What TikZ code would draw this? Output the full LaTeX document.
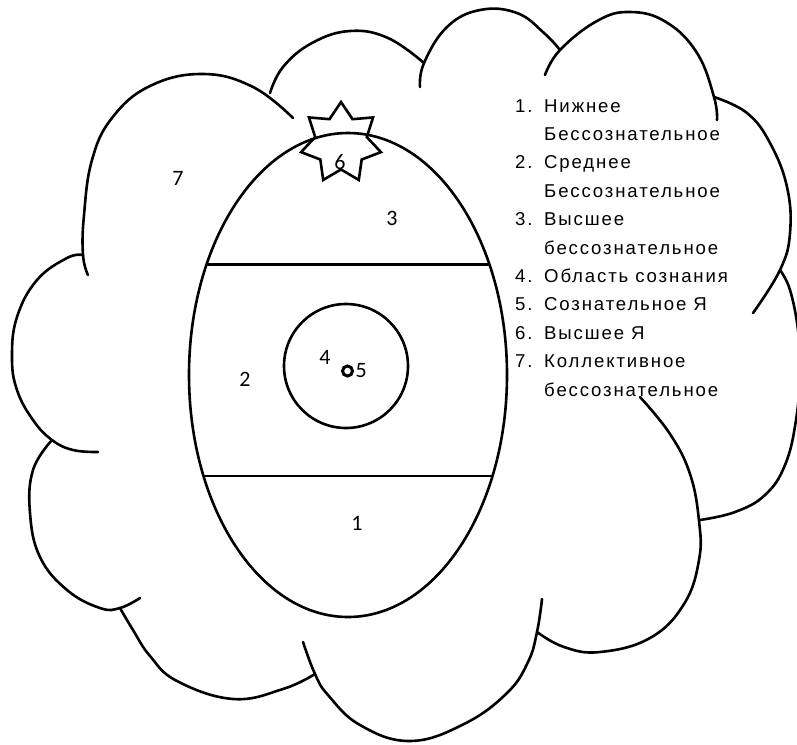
\documentclass[tikz,border=0pt]{standalone}
\usepackage{fontspec}
\setmainfont{Liberation Sans}
\newfontfamily\digitfont{Carlito}
\newfontfamily\listfont[LetterSpace=10]{Liberation Sans}
\usetikzlibrary{shapes.geometric,positioning}
\tikzset{
  outline/.style={draw=black,line width=2.6pt},
  lobe/.style={outline,line cap=round},
  part/.style={font=\digitfont\fontsize{22}{22}\selectfont,inner sep=0pt},
  legend/.style={font=\listfont\fontsize{18.6}{28.4}\selectfont,align=left,inner sep=0pt},
}
\newcommand{\itm}[1]{\makebox[29pt][l]{#1}}
\newcommand{\cont}{\hspace*{29pt}}

\begin{document}
\begin{tikzpicture}[x=1pt,y=-1pt]
  \useasboundingbox (0,0) rectangle (797,744);
  % cloud, lobe by lobe
  \draw[lobe] plot[smooth,tension=0.7] coordinates {(88,275) (83,255) (84,215) (92,160) (112,118) (150,86) (203,74) (253,87) (293,118)};
  \draw[lobe] plot[smooth,tension=0.7] coordinates {(270,93) (283,67) (312,43) (350,31) (388,38) (424,63)};
  \draw[lobe] plot[smooth,tension=0.7] coordinates {(420,87) (424,63) (447,27) (480,10) (517,13) (544,33) (560,50)};
  \draw[lobe] plot[smooth,tension=0.7] coordinates {(545,75) (560,50) (597,21) (630,12) (666,22) (697,53) (714,97) (717,120)};
  \draw[lobe] plot[smooth,tension=0.7] coordinates {(714,97) (747,113) (770,143) (787,187) (790,233) (780,270) (753,313)};
  \draw[lobe] plot[smooth,tension=0.7] coordinates {(780,270) (790,290) (798,330) (800,370) (796,420) (785,465) (765,495) (735,512) (700,520)};
  \draw[lobe] plot[smooth,tension=0.7] coordinates {(640,397) (670,434) (690,474) (699,521) (699,560) (684,604) (650,638) (600,652) (564,647) (537,632)};
  \draw[lobe] plot[smooth,tension=0.7] coordinates {(542,599) (537,632) (528,662) (507,693) (464,724) (410,741) (360,725) (328,695) (315,674) (303,642)};
  \draw[lobe] plot[smooth,tension=0.7] coordinates {(120,608) (133,630) (150,656) (177,681) (233,699) (283,689) (315,674)};
  \draw[lobe] plot[smooth,tension=0.7] coordinates {(52,440) (33,470) (30,513) (40,557) (67,590) (100,608) (120,608) (140,598)};
  \draw[lobe] plot[smooth,tension=0.7] coordinates {(83,255) (67,258) (37,280) (17,317) (12,357) (17,390) (33,420) (52,440) (73,450) (98,452)};
  % egg and its layers
  \node[outline,ellipse,minimum width=318,minimum height=484,inner sep=0pt,outer sep=0pt] (egg) at (348,375) {};
  \draw[outline] (egg.142) -- (egg.38);
  \draw[outline] (egg.-145) -- (egg.-35);
  \node[outline,circle,minimum size=124,inner sep=0pt,outer sep=0pt] (field) at (346,366) {};
  \node[outline,star,star points=7,star point ratio=1.55,minimum size=82,inner sep=0pt,outer sep=0pt] (higher) at (341,143) {};
  \node[draw=black,line width=3pt,circle,minimum size=10,inner sep=0pt] (ego) at (347.5,371) {};
  % numbers
  \node[part] (n1) at (357,523) {1};
  \node[part] (n2) at (245,379) {2};
  \node[part] (n3) at (392,218) {3};
  \node[part] (n4) at (325,357) {4};
  \node[part,right=1.5pt of ego] (n5) {5};
  \node[part] (n6) at (340,162) {6};
  \node[part] (n7) at (178,178) {7};
  \node[legend,anchor=base west] (legend) at (515,396) {\itm{1.}Нижнее\\
    \cont Бессознательное\\
    \itm{2.}Среднее\\
    \cont Бессознательное\\
    \itm{3.}Высшее\\
    \cont бессознательное\\
    \itm{4.}Область сознания\\
    \itm{5.}Сознательное Я\\
    \itm{6.}Высшее Я\\
    \itm{7.}Коллективное\\
    \cont бессознательное};
\end{tikzpicture}
\end{document}
